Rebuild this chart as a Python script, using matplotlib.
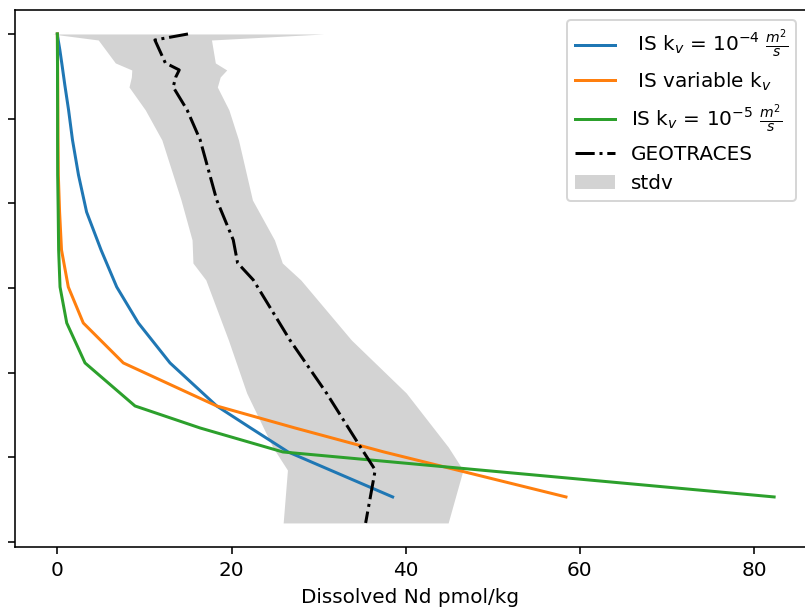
import matplotlib
matplotlib.use("Agg")
import matplotlib.pyplot as plt
import numpy as np

# Model depths (m) and dissolved Nd (pmol/kg)
model_depth = [0, 71, 189, 366, 602, 897, 1251, 1665, 2102, 2550, 2987, 3412, 3884, 4392, 4652, 4935, 5466]
nd_kv4 = [0, 0.1, 0.29, 0.54, 0.86, 1.29, 1.74, 2.43, 3.36, 5.02, 6.82, 9.3, 12.94, 18.3, 22.2, 26.5, 38.5]
nd_var = [0, 0.01, 0.02, 0.03, 0.05, 0.06, 0.08, 0.115, 0.26, 0.48, 1.26, 2.98, 7.58, 18.3, 27.3, 37.5, 58.4]
nd_kv5 = [0, 0.01, 0.01, 0.02, 0.02, 0.03, 0.03, 0.04, 0.1, 0.15, 0.31, 1.08, 3.18, 8.92, 16.4, 25.9, 82.3]

# GEOTRACES observations
geo_depth = [0, 71, 342, 425, 508, 626, 897, 1251, 1960, 2432, 2704, 2904, 3613, 4239, 4876, 5148, 5773]
geo_mean = [15.0, 11.2, 12.4, 14.0, 13.6, 13.3, 14.9, 16.4, 18.3, 20.2, 20.7, 22.5, 26.7, 30.9, 34.8, 36.5, 35.4]
geo_std = [15.6, 6.5, 5.74, 5.45, 5.1, 5.07, 4.8, 4.4, 4.1, 4.73, 5.13, 5.45, 7.06, 9.16, 10.08, 10.08, 9.47]

labels = [r" IS k$_v$ = 10$^{-4}$ $\frac{m^2}{s}$",
          r" IS variable k$_v$",
          r"IS k$_v$ = 10$^{-5}$ $\frac{m^2}{s}$",
          "GEOTRACES", "stdv"]

fig = plt.figure(figsize=(805 / 144, 610 / 144), dpi=144)
ax = fig.add_axes([15 / 805, 63 / 610, 791 / 805, 537 / 610])

ax.plot(nd_kv4, model_depth, color="C0", label=labels[0])
ax.plot(nd_var, model_depth, color="C1", label=labels[1])
ax.plot(nd_kv5, model_depth, color="C2", label=labels[2])
ax.plot(geo_mean, geo_depth, "k-.", label=labels[3])
gm = np.array(geo_mean)
gs = np.array(geo_std)
ax.fill_betweenx(geo_depth, gm - gs, gm + gs, color="lightgrey", label=labels[4], linewidth=0)

ax.set_xlim(-4.86, 85.96)
ax.set_ylim(6057, -283)
ax.set_yticks(range(0, 7000, 1000))
ax.set_yticklabels([])
ax.set_xticks([0, 20, 40, 60, 80])
ax.set_xlabel("Dissolved Nd pmol/kg")
ax.legend(loc="upper right")

fig.savefig("out.png", dpi=144)
